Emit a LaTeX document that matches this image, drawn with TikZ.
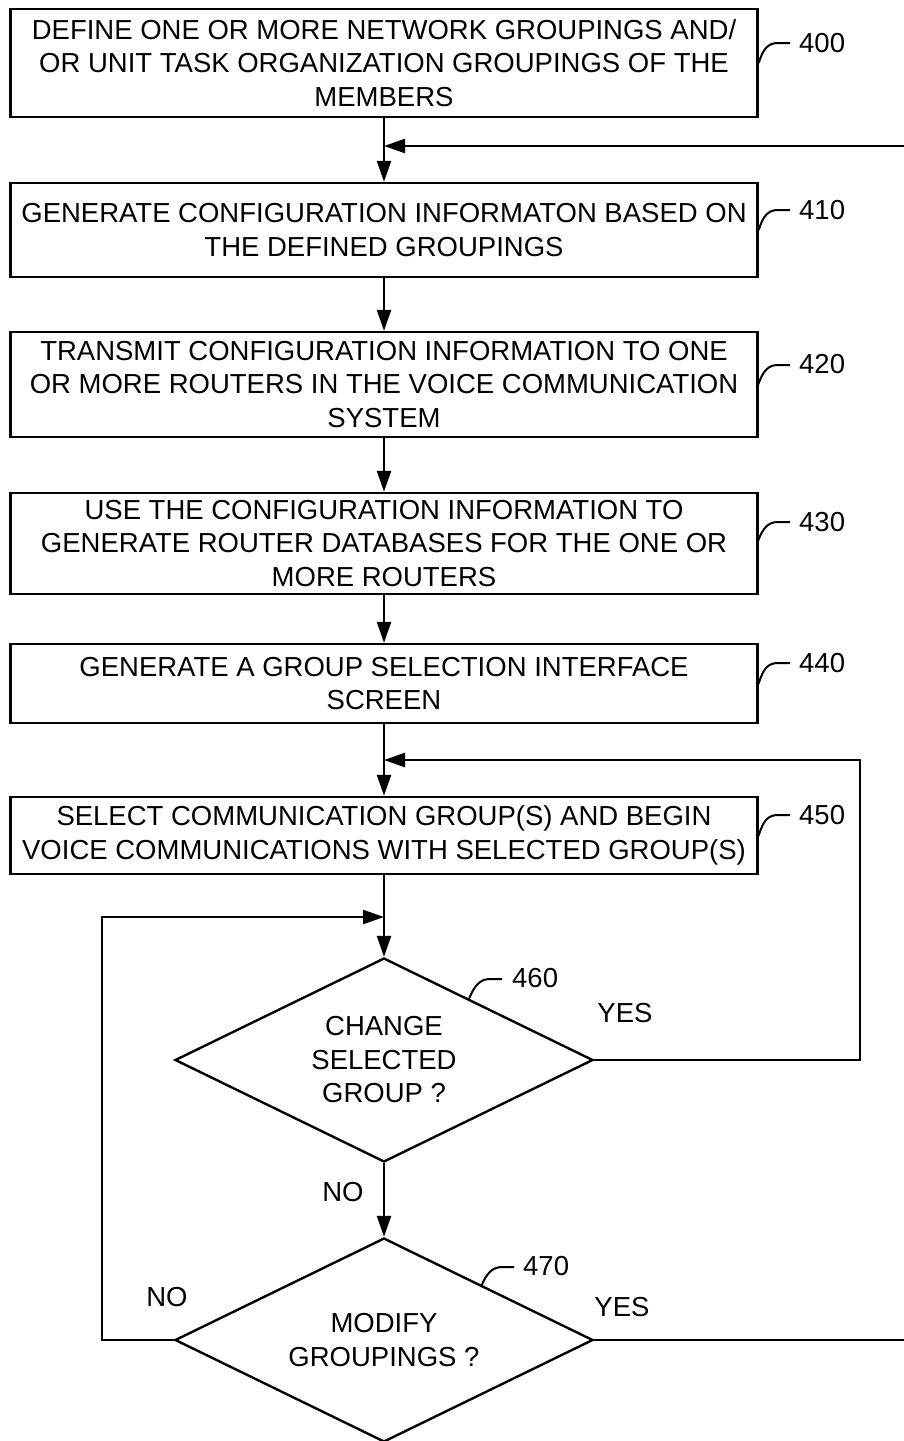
\documentclass[tikz,border=0pt]{standalone}
\usepackage{fontspec}
\setmainfont{Liberation Sans}
\usetikzlibrary{arrows.meta,shapes.geometric}
\begin{document}
\begin{tikzpicture}[x=1pt,y=-1pt,
  every node/.style={font=\fontsize{27.5}{33.5}\selectfont},
  box/.style={draw, line width=2.4pt, minimum width=747pt, inner sep=0pt, align=center},
  dia/.style={draw, diamond, aspect=2, line width=2.4pt, minimum width=418pt, minimum height=204pt, inner sep=0pt, align=center},
  flow/.style={line width=2.4pt, -{Triangle[length=21pt,width=14pt]}},
  conn/.style={line width=2.4pt},
  lead/.style={line width=2pt},
  reflab/.style={anchor=west, inner sep=0pt},
  txt/.style={inner sep=0pt}]
\useasboundingbox (0,0) rectangle (904,1441);

% boxes
\node[box, minimum height=108pt] (b400) at (384,63) {DEFINE ONE OR MORE NETWORK GROUPINGS AND/\\OR UNIT TASK ORGANIZATION GROUPINGS OF THE\\MEMBERS};
\node[box, minimum height=94pt] (b410) at (384,230) {GENERATE CONFIGURATION INFORMATON BASED ON\\THE DEFINED GROUPINGS};
\node[box, minimum height=105pt] (b420) at (384,384.5) {TRANSMIT CONFIGURATION INFORMATION TO ONE\\OR MORE ROUTERS IN THE VOICE COMMUNICATION\\SYSTEM};
\node[box, minimum height=101pt] (b430) at (384,543.5) {USE THE CONFIGURATION INFORMATION TO\\GENERATE ROUTER DATABASES FOR THE ONE OR\\MORE ROUTERS};
\node[box, minimum height=79pt] (b440) at (384,683.5) {GENERATE A GROUP SELECTION INTERFACE\\SCREEN};
\node[box, minimum height=77pt] (b450) at (384,835.5) {SELECT COMMUNICATION GROUP(S) AND BEGIN\\VOICE COMMUNICATIONS WITH SELECTED GROUP(S)};

% decisions
\node[dia] (d460) at (384,1060) {CHANGE\\SELECTED\\GROUP ?};
\node[dia] (d470) at (384,1340) {MODIFY\\GROUPINGS ?};

% junction coordinates
\coordinate (j1) at (384,146);
\coordinate (j2) at (384,760);
\coordinate (j3) at (384,917);
\coordinate (offtop) at (904,146);
\coordinate (offbot) at (904,1340);
\coordinate (yescorner) at (860,1060);
\coordinate (nocorner) at (102,1340);

% main flow
\draw[flow] (b400) -- (b410);
\draw[flow] (offtop) -- (j1);
\draw[flow] (b410) -- (b420);
\draw[flow] (b420) -- (b430);
\draw[flow] (b430) -- (b440);
\draw[flow] (b440) -- (b450);
\draw[flow] (b450) -- (d460);
\draw[flow] (d460) -- (d470);

% loops
\draw[flow] (d460.east) -- (yescorner) |- (j2);
\draw[flow] (d470.west) -- (nocorner) |- (j3);
\draw[conn] (d470.east) -- (offbot);

% branch labels
\node[txt] (yes1) at (625,1013) {YES};
\node[txt] (no1) at (343,1192) {NO};
\node[txt] (no2) at (167,1297) {NO};
\node[txt] (yes2) at (622,1307) {YES};

% reference numerals
\node[reflab] (r400) at (799,43) {400};
\node[reflab] (r410) at (799,210) {410};
\node[reflab] (r420) at (799,364) {420};
\node[reflab] (r430) at (799,522) {430};
\node[reflab] (r440) at (799,663) {440};
\node[reflab] (r450) at (799,815) {450};
\node[reflab] (r460) at (512,978) {460};
\node[reflab] (r470) at (523,1266) {470};

\draw[lead] (b400.east) .. controls (763,49) and (768,43) .. (778,43) -- (790,43);
\draw[lead] (b410.east) .. controls (763,216) and (768,210) .. (778,210) -- (790,210);
\draw[lead] (758,385) .. controls (763,371) and (768,365) .. (778,365) -- (790,365);
\draw[lead] (758,541) .. controls (763,528) and (768,522) .. (778,522) -- (790,522);
\draw[lead] (b440.east) .. controls (763,669) and (768,663) .. (778,663) -- (790,663);
\draw[lead] (b450.east) .. controls (763,821) and (768,815) .. (778,815) -- (790,815);
\draw[lead] (469,999) .. controls (474,986) and (480,979) .. (490,979) -- (502,979);
\draw[lead] (481,1287) .. controls (486,1274) and (492,1267) .. (502,1267) -- (514,1267);
\end{tikzpicture}
\end{document}
